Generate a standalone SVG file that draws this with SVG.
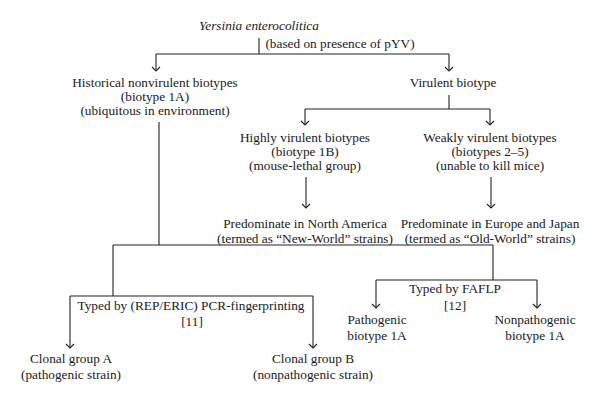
<svg xmlns="http://www.w3.org/2000/svg" width="600" height="403" viewBox="0 0 600 403">
<defs>
<marker id="arr" viewBox="0 0 10 10" refX="9" refY="5" markerWidth="10" markerHeight="10" markerUnits="userSpaceOnUse" orient="auto">
<path d="M5,1 L9,5 L5,9" fill="none" stroke="#222" stroke-width="1.1"/>
</marker>
<style>
text{font-family:"Liberation Serif","Times New Roman",serif;font-size:13.3px;fill:#1a1a1a;text-anchor:middle}
.it{font-style:italic}
.c{fill:none;stroke:#222;stroke-width:1.1}
.a{marker-end:url(#arr)}
</style>
</defs>
<g id="connectors">
<path class="c" d="M259,38 V54"/>
<path class="c" d="M156,54 H449"/>
<path class="c a" d="M156,54 V71"/>
<path class="c a" d="M449,54 V71"/>
<path class="c" d="M449,95 V109 M305,109 H490"/>
<path class="c a" d="M305,109 V125"/>
<path class="c a" d="M490,109 V125"/>
<path class="c a" d="M306,177 V208"/>
<path class="c a" d="M491,177 V208"/>
<path class="c" d="M159,122 V245 M113,245 H493 M113,245 V296 M70,296 H313 M493,245 V280 M376,280 H537"/>
<path class="c a" d="M70,296 V348"/>
<path class="c a" d="M313,296 V348"/>
<path class="c a" d="M376,280 V308"/>
<path class="c a" d="M537,280 V308"/>
</g>
<g id="root">
<text class="it" x="259" y="30">Yersinia enterocolitica</text>
<text x="340" y="48">(based on presence of pYV)</text>
</g>
<g id="historical">
<text x="155" y="87">Historical nonvirulent biotypes</text>
<text x="155" y="101">(biotype 1A)</text>
<text x="155" y="115">(ubiquitous in environment)</text>
</g>
<g id="virulent">
<text x="453" y="87">Virulent biotype</text>
</g>
<g id="highly">
<text x="305" y="142">Highly virulent biotypes</text>
<text x="305" y="156">(biotype 1B)</text>
<text x="305" y="170">(mouse-lethal group)</text>
</g>
<g id="weakly">
<text x="490" y="142">Weakly virulent biotypes</text>
<text x="490" y="156">(biotypes 2–5)</text>
<text x="490" y="170">(unable to kill mice)</text>
</g>
<g id="newworld">
<text x="305" y="228">Predominate in North America</text>
<text x="305" y="243">(termed as “New-World” strains)</text>
</g>
<g id="oldworld">
<text x="490" y="228">Predominate in Europe and Japan</text>
<text x="490" y="243">(termed as “Old-World” strains)</text>
</g>
<g id="pcr">
<text x="191" y="310">Typed by (REP/ERIC) PCR-fingerprinting</text>
<text x="192" y="326">[11]</text>
</g>
<g id="fafl">
<text x="455" y="293">Typed by FAFLP</text>
<text x="455" y="310">[12]</text>
</g>
<g id="clonalA">
<text x="71" y="363">Clonal group A</text>
<text x="71" y="379">(pathogenic strain)</text>
</g>
<g id="clonalB">
<text x="313" y="363">Clonal group B</text>
<text x="313" y="379">(nonpathogenic strain)</text>
</g>
<g id="pathogenic">
<text x="377" y="324">Pathogenic</text>
<text x="377" y="340">biotype 1A</text>
</g>
<g id="nonpathogenic">
<text x="535" y="324">Nonpathogenic</text>
<text x="535" y="340">biotype 1A</text>
</g>
</svg>
